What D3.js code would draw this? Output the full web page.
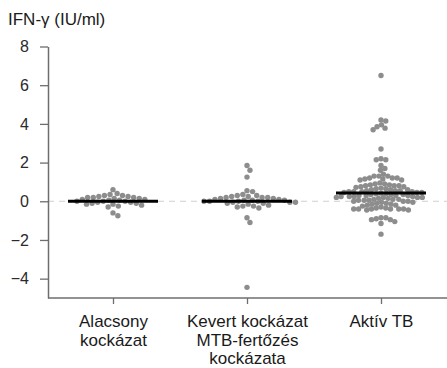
<!DOCTYPE html>
<html>
<head>
<meta charset="utf-8">
<script src="https://cdn.jsdelivr.net/npm/d3@7"></script>
<style>
body { margin: 0; background: #fff; }
svg { display: block; font-family: "Liberation Sans", Arial, sans-serif; }
</style>
</head>
<body>
<div id="chart"></div>
<script>
'use strict';

// categories and their wrapped labels
var categories = ['low', 'mixed', 'active'];
var categoryLabels = [['Alacsony', 'kockázat'], ['Kevert kockázat', 'MTB-fertőzés', 'kockázata'], ['Aktív TB']];

// IFN-gamma values per group (IU/ml)
var lowRisk = [0.6, 0.4, 0.35, 0.3, 0.3, 0.25, 0.25, 0.2, 0.2, 0.2, 0.15, 0.15, 0.1, 0.1, 0.05, 0.05,
	0, 0, 0, -0.05, -0.05, -0.1, -0.1, -0.15, -0.15, -0.2, -0.25, -0.3, -0.6, -0.75];
var mixedRisk = [1.85, 1.6, 1.25, 0.55, 0.5, 0.35, 0.3, 0.3, 0.25, 0.25, 0.2, 0.2, 0.2, 0.15, 0.15, 0.1, 0.1,
	0.05, 0.05, 0.05, 0, 0, 0, 0, -0.05, -0.05, -0.05, -0.1, -0.1, -0.15, -0.2, -0.25, -0.25, -0.3, -0.35,
	-0.85, -1.1, -4.45];
var activeTB = [6.5,
	4.2, 4.15, 3.95, 3.85, 3.78, 3.7,
	2.7, 2.2, 2.15, 2.15, 1.85, 1.7, 1.6,
	1.4, 1.3, 1.3, 1.3, 1.2, 1.2, 1.2, 1.15, 1.15, 1.1, 1.1,
	0.95, 0.9, 0.9, 0.85, 0.85, 0.8, 0.8, 0.8, 0.75, 0.75, 0.72,
	0.68, 0.65, 0.65, 0.6, 0.6, 0.6, 0.55, 0.55, 0.55, 0.5, 0.5, 0.5, 0.5, 0.45, 0.45, 0.45, 0.42, 0.4,
	0.38, 0.35, 0.35, 0.35, 0.3, 0.3, 0.3, 0.3, 0.25, 0.25, 0.25, 0.25, 0.2, 0.2, 0.2, 0.2,
	0.15, 0.15, 0.1, 0.1, 0.1, 0.05, 0.05, 0.05, 0, 0, 0,
	-0.05, -0.05, -0.1, -0.1, -0.15, -0.15, -0.2, -0.2, -0.25,
	-0.3, -0.35, -0.4, -0.4, -0.4, -0.45, -0.4, -0.4, -0.45, -0.4, -0.35,
	-0.85, -0.85, -0.95, -1.05, -1.15, -0.95, -0.9,
	-1.7];
var medians = [0, 0, 0.43];
var yTicks = [-4, -2, 0, 2, 4, 6, 8];

var width = 447, height = 368;
var margin = {top: 46.5, right: 0, bottom: 70, left: 48};
var dotR = 2.7;

var svg = d3.select('#chart').append('svg')
	.attr('width', width)
	.attr('height', height);

var x = d3.scalePoint()
	.domain(categories)
	.range([margin.left - 2, width + 1])
	.padding(0.5);

var y = d3.scaleLinear()
	.domain([-5, 8])
	.range([height - margin.bottom, margin.top]);

// zero reference line
svg.append('line')
	.attr('x1', margin.left).attr('x2', width)
	.attr('y1', y(0)).attr('y2', y(0))
	.attr('stroke', '#cfcfcf')
	.attr('stroke-width', 1.2)
	.attr('stroke-dasharray', '6,5');

// y axis
var yAxis = svg.append('g')
	.attr('transform', 'translate(' + margin.left + ',0)')
	.call(d3.axisLeft(y).tickValues(yTicks).tickSize(8).tickPadding(11).tickSizeOuter(0));
yAxis.select('.domain').attr('stroke', '#6e6e6e').attr('stroke-width', 1.5);
yAxis.selectAll('.tick line').attr('stroke', '#6e6e6e').attr('stroke-width', 1.3);
yAxis.selectAll('.tick text').attr('font-size', 16).attr('fill', '#2a2a2a').style('font-family', 'inherit');

// x axis
var xAxis = svg.append('g')
	.attr('transform', 'translate(0,' + y(-5) + ')')
	.call(d3.axisBottom(x).tickSize(6).tickSizeOuter(0).tickFormat(''));
xAxis.select('.domain').attr('stroke', '#6e6e6e').attr('stroke-width', 1.5)
	.attr('d', 'M' + margin.left + ',0H' + width);
xAxis.selectAll('.tick line').attr('stroke', '#6e6e6e').attr('stroke-width', 1.3);

xAxis.selectAll('.tick').each(function(d, i) {
	var t = d3.select(this).append('text')
		.attr('fill', '#1a1a1a')
		.attr('font-size', 17)
		.attr('text-anchor', 'middle')
		.style('font-family', 'inherit');
	categoryLabels[i].forEach(function(line, k) {
		t.append('tspan').attr('x', 0).attr('y', 29 + k * 18.5).text(line);
	});
});

// title
svg.append('text')
	.attr('x', 8).attr('y', 25)
	.attr('font-size', 17)
	.attr('fill', '#1a1a1a')
	.text('IFN-γ (IU/ml)');

// simple beeswarm: place each dot as close to the centre as it can go
function swarm(values, gap) {
	var d = dotR * 2 * gap;
	var placed = [];
	values.slice().sort(function(a, b) { return b - a; }).forEach(function(v) {
		var py = y(v);
		var cands = [0];
		placed.forEach(function(p) {
			var dy = Math.abs(p.y - py);
			if (dy < d) {
				var dx = Math.sqrt(d * d - dy * dy);
				cands.push(p.x + dx, p.x - dx);
			}
		});
		cands.sort(function(a, b) { return Math.abs(a) - Math.abs(b); });
		var best = 0;
		for (var i = 0; i < cands.length; i++) {
			var ok = placed.every(function(p) {
				return (p.x - cands[i]) * (p.x - cands[i]) + (p.y - py) * (p.y - py) >= d * d - 0.01;
			});
			if (ok) { best = cands[i]; break; }
		}
		placed.push({x: best, y: py, v: v});
	});
	return placed;
}

var series = [lowRisk, mixedRisk, activeTB];
var gaps = [1.05, 1.05, 0.9];
series.forEach(function(vals, i) {
	var cx = x(categories[i]);
	svg.append('g').selectAll('circle')
		.data(swarm(vals, gaps[i]))
		.enter().append('circle')
		.attr('cx', function(p) { return cx + p.x; })
		.attr('cy', function(p) { return p.y; })
		.attr('r', dotR)
		.attr('fill', '#8d8d8d');
});

// median bars
svg.append('g').selectAll('line')
	.data(medians)
	.enter().append('line')
	.attr('x1', function(m, i) { return x(categories[i]) - 45; })
	.attr('x2', function(m, i) { return x(categories[i]) + 45; })
	.attr('y1', function(m) { return y(m); })
	.attr('y2', function(m) { return y(m); })
	.attr('stroke', '#000')
	.attr('stroke-width', 3);
</script>
</body>
</html>
